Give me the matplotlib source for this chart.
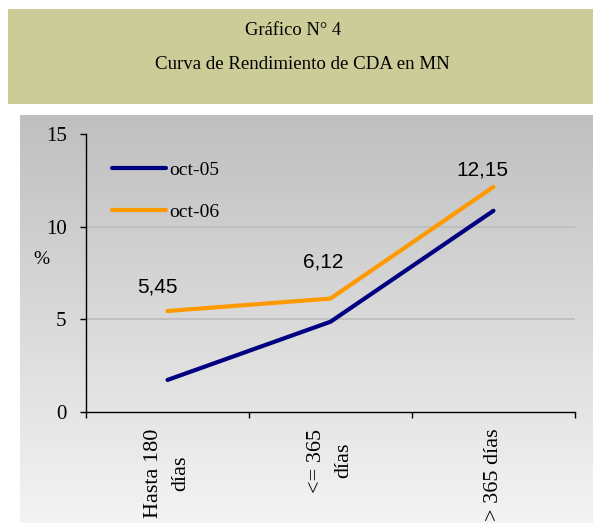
import numpy as np
import matplotlib
matplotlib.use("Agg")
import matplotlib.pyplot as plt
from matplotlib.patches import Rectangle

# ---- data ----
categories = ["Hasta 180\ndías", "<= 365\ndías", "> 365 días"]
series_names = ["oct-05", "oct-06"]
oct05 = [1.73, 4.87, 10.86]
oct06 = [5.45, 6.12, 12.15]
label_values = oct06
yticks = [0, 5, 10, 15]

title1 = "Gráfico N° 4"
title2 = "Curva de Rendimiento de CDA en MN"

W, H = 593, 523
fig = plt.figure(figsize=(W / 100, H / 100), dpi=100)
fig.patch.set_facecolor("white")

serif = ["Liberation Serif", "DejaVu Serif"]
sans = ["Liberation Sans", "DejaVu Sans"]

# header box
fig.patches.append(Rectangle((8 / W, 1 - 104 / H), (W - 8) / W, 95 / H,
                             transform=fig.transFigure, facecolor="#CCCC99",
                             edgecolor="none", zorder=0))
fig.text(293 / W, 1 - 35 / H, title1, ha="center", va="baseline",
         family=serif, fontsize=13.3)
fig.text(302 / W, 1 - 69 / H, title2, ha="center", va="baseline",
         family=serif, fontsize=13.6)

# gradient panel
bg = fig.add_axes([20 / W, 0, (W - 20) / W, (H - 115) / H], zorder=0)
grad = np.linspace(0.75, 0.955, 256).reshape(-1, 1)
bg.imshow(np.dstack([grad, grad, grad]), aspect="auto", extent=[0, 1, 0, 1],
          origin="upper")
bg.set_axis_off()

# main axes
ax = fig.add_axes([86 / W, (H - 412) / H, (575 - 86) / W, (412 - 134) / H], zorder=1)
ax.patch.set_alpha(0)
x = np.arange(len(categories))
ax.plot(x, oct05, color="#000080", lw=3, solid_capstyle="round", label=series_names[0])
ax.plot(x, oct06, color="#FF9900", lw=3, solid_capstyle="round", label=series_names[1])

offsets = [(-7, 17), (-5, 26), (-8, 12)]
for xi, v, off in zip(x, label_values, offsets):
    ax.annotate(f"{v:.2f}".replace(".", ","), (xi, v), xytext=off,
                textcoords="offset points", ha="center", va="center",
                family=sans, fontsize=15)

ax.set_xlim(-0.5, len(categories) - 0.5)
ax.set_ylim(0, 15)
ax.set_yticks(yticks)
ax.set_yticklabels([str(t) for t in yticks], family=serif, fontsize=15)
ax.tick_params(axis="y", direction="out", length=4.5, width=1, pad=9.5)
for t in yticks[1:-1]:
    ax.axhline(t, color="#BDBDBD", lw=1.2, zorder=0)

ax.set_xticks(x)
ax.set_xticklabels(categories, rotation=90, family=serif, fontsize=16,
                   ha="center", va="top", multialignment="center", linespacing=1.6)
ax.tick_params(axis="x", length=0, pad=12)
ax.set_xticks(np.arange(-0.5, len(categories)), minor=True)
ax.tick_params(axis="x", which="minor", direction="out", length=4, width=1)

for s in ["top", "right"]:
    ax.spines[s].set_visible(False)
for s in ["left", "bottom"]:
    ax.spines[s].set_color("black")
    ax.spines[s].set_linewidth(1)

ax.set_ylabel("%", rotation=0, family=serif, fontsize=14, ha="center", va="center")
ax.yaxis.set_label_coords(-45 / (575 - 86), (412 - 260) / (412 - 134))

leg = ax.legend(loc="upper left", bbox_to_anchor=(26 / 489, 1 - 27 / 278),
                frameon=False, handlelength=2.8, handletextpad=0.15,
                labelspacing=1.25, prop={"family": serif, "size": 14},
                borderaxespad=0, borderpad=0)

fig.savefig("out.png", dpi=100)
